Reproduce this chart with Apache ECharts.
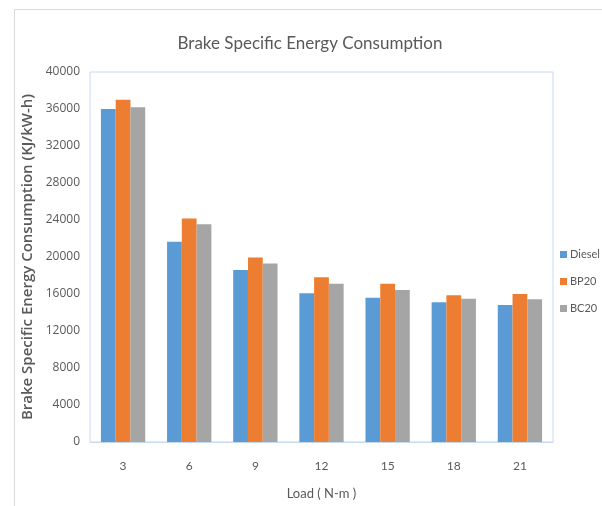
<!DOCTYPE html>
<html>
<head>
<meta charset="utf-8">
<script src="https://cdn.jsdelivr.net/npm/echarts@6/dist/echarts.min.js"></script>
<style>html,body{margin:0;padding:0;background:#fff;}#c{width:602px;height:506px;}</style>
</head>
<body>
<div id="c"></div>
<script>
const categories = ['3', '6', '9', '12', '15', '18', '21'];
const diesel = [36000, 21650, 18600, 16070, 15600, 15100, 14800];
const bp20 = [37000, 24150, 19950, 17800, 17100, 15870, 16000];
const bc20 = [36200, 23550, 19300, 17100, 16420, 15480, 15420];
const seriesNames = ['Diesel', 'BP20', 'BC20'];
const yTicks = { min: 0, max: 40000, interval: 4000 };

const FONT = 'Lato';
const chart = echarts.init(document.getElementById('c'), null, { renderer: 'canvas' });
chart.setOption({
  backgroundColor: '#fff',
  animation: false,
  textStyle: { fontFamily: FONT },
  graphic: [{
    type: 'rect', left: 12, top: 7, z: -1,
    shape: { width: 600, height: 510 },
    style: { fill: 'none', stroke: '#d9d9d9', lineWidth: 1 }
  }],
  title: {
    text: 'Brake Specific Energy Consumption',
    left: 305, top: 30, textAlign: 'center',
    textStyle: { fontFamily: FONT, fontSize: 17, fontWeight: 'normal', color: '#595959' }
  },
  legend: {
    orient: 'vertical', left: 555, top: 244, itemGap: 16,
    itemWidth: 7, itemHeight: 7, icon: 'rect',
    textStyle: { fontFamily: FONT, fontSize: 11, color: '#595959', padding: [0, 0, 0, -2] },
    data: seriesNames
  },
  grid: { left: 90, right: 49, top: 72, bottom: 64, show: true, borderColor: '#c6d9f1', borderWidth: 1 },
  xAxis: {
    type: 'category', data: categories,
    name: 'Load ( N-m )', nameLocation: 'middle', nameGap: 45,
    nameTextStyle: { fontFamily: FONT, fontSize: 13, color: '#595959' },
    axisLine: { lineStyle: { color: '#c6d9f1' } },
    axisTick: { show: false },
    axisLabel: { fontFamily: FONT, fontSize: 12, color: '#595959', margin: 18 }
  },
  yAxis: {
    type: 'value', min: yTicks.min, max: yTicks.max, interval: yTicks.interval,
    name: 'Brake Specific Energy Consumption (KJ/kW-h)', nameLocation: 'middle', nameGap: 50,
    nameTextStyle: { fontFamily: 'Open Sans', fontSize: 15, fontWeight: 600, color: '#595959' },
    axisLine: { show: false }, axisTick: { show: false },
    splitLine: { show: false },
    axisLabel: { fontFamily: 'Open Sans', fontSize: 12, color: '#595959', margin: 10, formatter: (v) => String(v) }
  },
  series: [
    { name: 'Diesel', type: 'bar', data: diesel, itemStyle: { color: '#5b9bd5' }, barGap: '0%', barCategoryGap: '33%' },
    { name: 'BP20', type: 'bar', data: bp20, itemStyle: { color: '#ed7d31' }, barGap: '0%', barCategoryGap: '33%' },
    { name: 'BC20', type: 'bar', data: bc20, itemStyle: { color: '#a5a5a5' }, barGap: '0%', barCategoryGap: '33%' }
  ]
});
</script>
</body>
</html>
